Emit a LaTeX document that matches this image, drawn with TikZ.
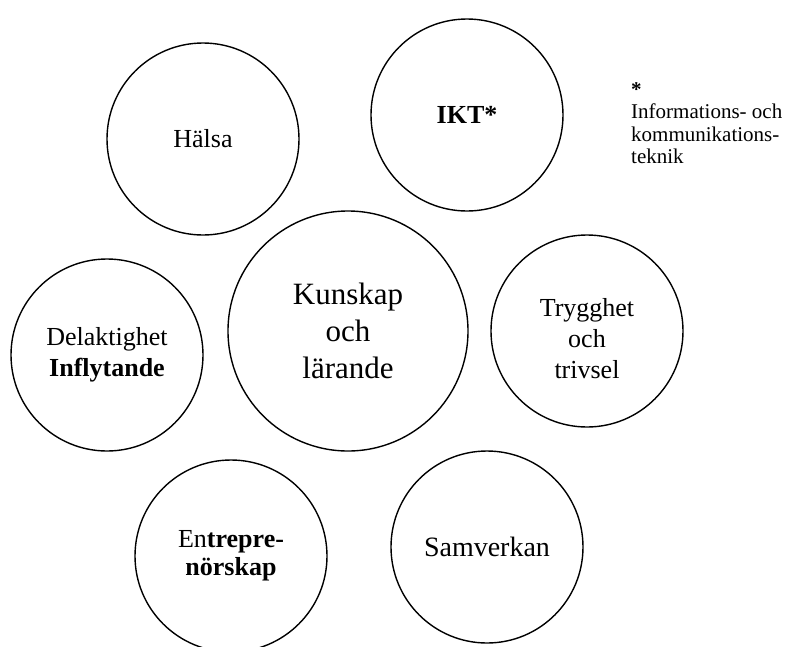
\documentclass[tikz,border=0pt]{standalone}
\usepackage{fontspec}
\setmainfont{Liberation Serif}
\tikzset{
  ring/.style={draw, circle, line width=1.4pt, minimum size=192pt, inner sep=0pt, align=center, font=\fontsize{26}{31}\selectfont},
}
\begin{document}
\begin{tikzpicture}[x=1pt,y=-1pt]
\useasboundingbox (0,0) rectangle (785,646);
\node[ring] (halsa) at (203,139) {H\"alsa};
\node[ring] (ikt) at (467,115) {\textbf{IKT*}};
\node[ring, minimum size=240pt, font=\fontsize{31}{37}\selectfont] (kunskap) at (348,331) {Kunskap\\och\\l\"arande};
\node[ring] (delaktighet) at (107,355) {Delaktighet\\\textbf{Inflytande}};
\node[ring] (trygghet) at (587,331) {};
\node[align=center, font=\fontsize{26}{31}\selectfont] (trygghettext) at ([yshift=-8pt]trygghet.center) {Trygghet\\och\\trivsel};
\node[ring, font=\fontsize{26}{28}\selectfont] (entre) at (231,556) {En\textbf{trepre-}\\\textbf{n\"orskap}};
\node[ring, font=\fontsize{28}{32}\selectfont] (samverkan) at (487,547) {Samverkan};
% fotnot
\node[anchor=north west, align=left, inner sep=0pt, font=\fontsize{21}{22.5}\selectfont] (note) at (631,82) {\textbf{*}\\Informations- och\\kommunikations-\\teknik};
\end{tikzpicture}
\end{document}
